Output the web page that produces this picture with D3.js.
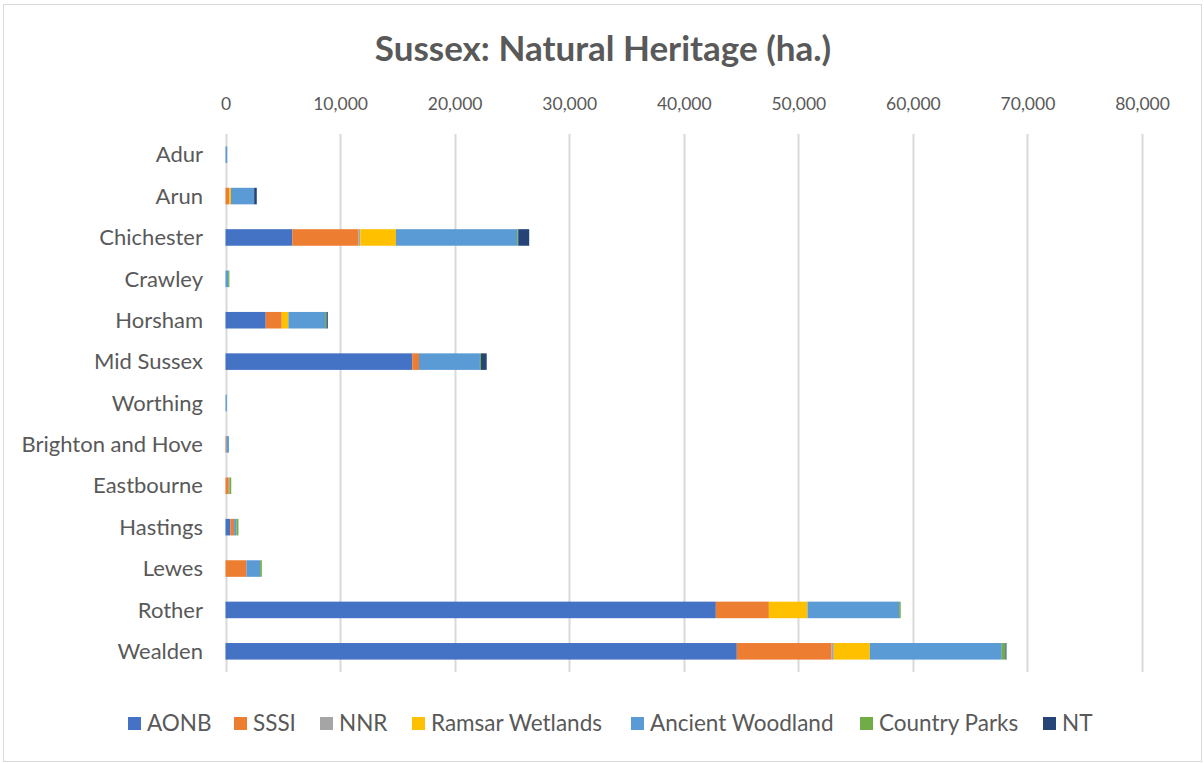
<!DOCTYPE html>
<html>
<head>
<meta charset="utf-8">
<script src="https://cdn.jsdelivr.net/npm/d3@7"></script>
<style>
  html, body { margin: 0; padding: 0; background: #fff; }
  svg { display: block; }
  text { font-family: Lato, "Open Sans", sans-serif; fill: #595959; }
</style>
</head>
<body>
<svg id="chart" width="1204" height="763"></svg>
<script>
const categories = ["Adur", "Arun", "Chichester", "Crawley", "Horsham", "Mid Sussex", "Worthing",
  "Brighton and Hove", "Eastbourne", "Hastings", "Lewes", "Rother", "Wealden"];
const seriesNames = ["AONB", "SSSI", "NNR", "Ramsar Wetlands", "Ancient Woodland", "Country Parks", "NT"];
const aonb            = [0, 0, 5830, 0, 3510, 16300, 0, 0, 0, 430, 0, 42800, 44630];
const sssi            = [0, 320, 5760, 0, 1400, 590, 0, 80, 290, 320, 1820, 4630, 8270];
const nnr             = [0, 0, 170, 0, 0, 0, 0, 0, 20, 0, 0, 0, 200];
const ramsar          = [0, 150, 3120, 0, 580, 0, 0, 0, 0, 0, 0, 3370, 3140];
const ancientWoodland = [150, 2030, 10580, 230, 3200, 5320, 120, 220, 40, 200, 1200, 8000, 11520];
const countryParks    = [0, 0, 90, 110, 120, 90, 0, 0, 150, 180, 150, 140, 320];
const nt              = [0, 230, 960, 0, 120, 500, 0, 0, 0, 0, 0, 0, 90];
const tickValues = [0, 10000, 20000, 30000, 40000, 50000, 60000, 70000, 80000];
const colors = ["#4472C4", "#ED7D31", "#A5A5A5", "#FFC000", "#5B9BD5", "#70AD47", "#264478"];

const seriesValues = [aonb, sssi, nnr, ramsar, ancientWoodland, countryParks, nt];
const rows = categories.map((c, i) => {
  const r = { category: c };
  seriesNames.forEach((s, j) => r[s] = seriesValues[j][i]);
  return r;
});
const stacked = d3.stack().keys(seriesNames)(rows);

const svg = d3.select("#chart");

// outer border
svg.append("rect").attr("x", 3.5).attr("y", 4.5).attr("width", 1198).attr("height", 757)
  .attr("fill", "#fff").attr("stroke", "#d9d9d9").attr("stroke-width", 1);

const x = d3.scaleLinear().domain([0, 80000]).range([225.5, 1142]);
const y = d3.scaleBand().domain(categories).range([134, 672]).paddingInner(0.6).paddingOuter(0.3);

// title
svg.append("text").attr("x", 603).attr("y", 61).attr("text-anchor", "middle")
  .style("font-size", "35px").style("font-weight", "bold").text("Sussex: Natural Heritage (ha.)");

// gridlines
svg.append("g").selectAll("line").data(tickValues).join("line")
  .attr("x1", d => Math.round(x(d)) + 0.5).attr("x2", d => Math.round(x(d)) + 0.5)
  .attr("y1", 134).attr("y2", 672)
  .attr("stroke", "#d9d9d9").attr("stroke-width", 2);

// top axis labels
const xAxis = d3.axisTop(x).tickValues(tickValues).tickSize(0).tickPadding(0)
  .tickFormat(d3.format(","));
const gx = svg.append("g").attr("transform", "translate(0,110)").call(xAxis);
gx.select(".domain").remove();
gx.selectAll("text").style("font-size", "17.5px").attr("fill", "#595959");

// category axis
const yAxis = d3.axisLeft(y).tickSize(0).tickPadding(0);
const gy = svg.append("g").attr("transform", "translate(203,0)").call(yAxis);
gy.select(".domain").remove();
gy.selectAll("text").style("font-size", "22px").attr("fill", "#595959").attr("dy", "0.35em");

// bars
svg.append("g").selectAll("g").data(stacked).join("g")
  .attr("fill", (d, i) => colors[i])
  .selectAll("rect").data(d => d).join("rect")
  .attr("x", d => x(d[0]))
  .attr("y", d => y(d.data.category))
  .attr("width", d => Math.max(0, x(d[1]) - x(d[0])))
  .attr("height", y.bandwidth());

// legend
const legendX = [128, 234, 320, 412, 631, 860, 1043];
const lg = svg.append("g").selectAll("g").data(seriesNames).join("g")
  .attr("transform", (d, i) => `translate(${legendX[i]},717)`);
lg.append("rect").attr("width", 13).attr("height", 13).attr("fill", (d, i) => colors[i]);
lg.append("text").attr("x", 19).attr("y", 6.5).attr("dy", "0.35em")
  .style("font-size", "22.5px").text(d => d);
</script>
</body>
</html>
